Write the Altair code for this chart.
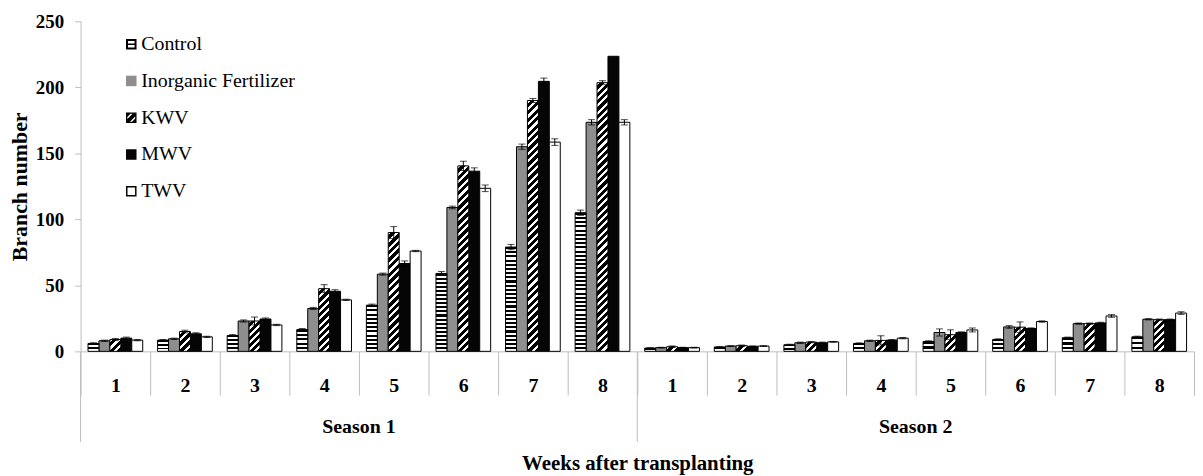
import altair as alt
import pandas as pd

# ---------------- data ----------------
treatments = ["Control", "Inorganic Fertilizer", "KWV", "MWV", "TWV"]
weeks = [1, 2, 3, 4, 5, 6, 7, 8]
seasons = ["Season 1", "Season 2"]

control_s1 = [6, 8.5, 12, 16.5, 35, 59, 79, 105]
control_s2 = [2.5, 3.3, 5, 6, 7.5, 9, 10.3, 11]
inorg_s1 = [8, 9.5, 23, 32.5, 58.5, 109, 155, 173.5]
inorg_s2 = [2.8, 4, 6.5, 8, 14.3, 18.5, 21, 24.3]
kwv_s1 = [9, 15, 23, 47.5, 90, 140.5, 190, 203.5]
kwv_s2 = [3.5, 4.3, 7, 8.3, 12.6, 18.3, 21, 24]
mwv_s1 = [10, 13.3, 24.5, 45.5, 66.5, 136.5, 204.5, 223.5]
mwv_s2 = [2.8, 3.8, 6.5, 8.5, 14.3, 17.3, 21.5, 24]
twv_s1 = [8.5, 11, 20, 39, 76, 123.5, 158.5, 173.5]
twv_s2 = [2.8, 4, 7.2, 10, 16.2, 22.6, 26.8, 29]

control_e1 = [0.5, 0.5, 0.7, 0.8, 0.8, 1.5, 2, 2]
control_e2 = [0.3, 0.3, 0.4, 0.4, 0.5, 0.5, 0.5, 0.5]
inorg_e1 = [0.5, 0.5, 0.8, 0.8, 0.8, 1, 2, 2]
inorg_e2 = [0.3, 0.3, 0.5, 0.5, 2.7, 1, 0.5, 0.5]
kwv_e1 = [0.8, 1, 3, 3, 4.5, 3.5, 1.5, 1.5]
kwv_e2 = [0.6, 0.5, 0.5, 3.5, 3.7, 4, 0.5, 0.5]
mwv_e1 = [0.8, 0.8, 0.8, 1.2, 2, 2.5, 2.5, 0]
mwv_e2 = [0.3, 0.3, 0.5, 0.5, 0.5, 0.5, 0.5, 0.5]
twv_e1 = [0.5, 0.5, 0.5, 0.5, 0.5, 2.5, 2.5, 2]
twv_e2 = [0.3, 0.3, 0.3, 0.5, 1.5, 0.5, 1, 1]

values = {
    "Control": (control_s1, control_s2),
    "Inorganic Fertilizer": (inorg_s1, inorg_s2),
    "KWV": (kwv_s1, kwv_s2),
    "MWV": (mwv_s1, mwv_s2),
    "TWV": (twv_s1, twv_s2),
}
errors = {
    "Control": (control_e1, control_e2),
    "Inorganic Fertilizer": (inorg_e1, inorg_e2),
    "KWV": (kwv_e1, kwv_e2),
    "MWV": (mwv_e1, mwv_e2),
    "TWV": (twv_e1, twv_e2),
}

keys = [f"S{si + 1}-{w}" for si in range(2) for w in weeks]

rows = []
for t in treatments:
    for si in range(2):
        for wi, w in enumerate(weeks):
            v = values[t][si][wi]
            e = errors[t][si][wi]
            rows.append({"key": f"S{si + 1}-{w}", "Treatment": t, "value": v,
                         "lo": v - e, "hi": v + e, "err": e})
df = pd.DataFrame(rows)

# ---------------- layout ----------------
W, H = 1120, 332
YMAX = 250
PAD_OUT = 0.68
step = W / len(keys)
bar_w = step / (len(treatments) + 2 * PAD_OUT)
FONT = ("'Liberation Serif', 'Times New Roman', Tinos, 'Nimbus Roman', "
        "'Noto Serif', 'DejaVu Serif', FreeSerif, serif")
GRAY = "#bdbdbd"

x_axis = alt.Axis(
    labelExpr="split(datum.value, '-')[1]", labelAngle=0, labelFont=FONT,
    labelFontSize=20, labelFontWeight="bold", labelColor="black",
    labelPadding=-20, tickSize=44, tickBand="extent", tickColor=GRAY,
    domainColor=GRAY, grid=False, titleFont=FONT, titleFontSize=21,
    titleFontWeight="bold", titleColor="black", titlePadding=57,
)
y_axis = alt.Axis(
    values=[0, 50, 100, 150, 200, 250], labelFont=FONT, labelFontSize=19,
    labelFontWeight="bold", labelColor="black", tickColor=GRAY, tickSize=6,
    domainColor=GRAY, grid=False, labelPadding=11, titleFont=FONT,
    titleFontSize=22, titleFontWeight="bold", titleColor="black", titlePadding=4,
)


def X(band=None):
    kw = {}
    if band is not None:
        kw["bandPosition"] = band
    return alt.X("key:N", scale=alt.Scale(domain=keys, paddingInner=0, paddingOuter=0),
                 axis=x_axis, title="Weeks after transplanting", **kw)


XO = alt.XOffset("Treatment:N", scale=alt.Scale(domain=treatments, paddingInner=0,
                                                 paddingOuter=PAD_OUT))


def Y(field):
    return alt.Y(f"{field}:Q", scale=alt.Scale(domain=[0, YMAX], nice=False),
                 axis=y_axis, title="Branch number")


def hstripes(h, period=4.2):
    n = max(1, round(h / period))
    stops = []
    for i in range(n):
        a, b, c = i / n, (i + 0.5) / n, (i + 1) / n
        stops += [{"offset": a, "color": "black"}, {"offset": b, "color": "black"},
                  {"offset": b, "color": "white"}, {"offset": c, "color": "white"}]
    return {"gradient": "linear", "x1": 0, "y1": 0, "x2": 0, "y2": 1, "stops": stops}


def diag(w, h, period=7.5, white=0.42):
    k = (w + h) / (w * w + h * h)
    n = max(1, round((w + h) / period))
    stops = []
    for i in range(n):
        a, b, c = i / n, (i + white) / n, (i + 1) / n
        stops += [{"offset": a, "color": "white"}, {"offset": b, "color": "white"},
                  {"offset": b, "color": "black"}, {"offset": c, "color": "black"}]
    return {"gradient": "linear", "x1": 0, "y1": 0, "x2": k * w, "y2": k * h,
            "stops": stops}


layers = []
plain_fill = {"Inorganic Fertilizer": "#8e8e8e", "MWV": "#050505", "TWV": "white"}
for t, col in plain_fill.items():
    layers.append(
        alt.Chart().mark_bar(fill=col, stroke="black", strokeWidth=1)
        .encode(x=X(), xOffset=XO, y=Y("value"))
        .transform_filter(alt.datum.Treatment == t)
    )

# patterned bars: one layer per bar, gradient sized to the bar
for t, maker in (("Control", "h"), ("KWV", "d")):
    for si in range(2):
        for wi, w in enumerate(weeks):
            v = values[t][si][wi]
            hpx = v * H / YMAX
            grad = hstripes(hpx) if maker == "h" else diag(bar_w, hpx)
            key = f"S{si + 1}-{w}"
            layers.append(
                alt.Chart().mark_bar(fill=grad, stroke="black", strokeWidth=1)
                .encode(x=X(), xOffset=XO, y=Y("value"))
                .transform_filter((alt.datum.Treatment == t) & (alt.datum.key == key))
            )

err_base = alt.Chart().transform_filter(alt.datum.err > 0)
layers.append(err_base.mark_rule(color="black", strokeWidth=1)
              .encode(x=X(), xOffset=XO, y=Y("lo"), y2="hi:Q"))
layers.append(err_base.mark_tick(color="black", thickness=1, size=7)
              .encode(x=X(), xOffset=XO, y=Y("hi")))
layers.append(err_base.mark_tick(color="black", thickness=1, size=7)
              .encode(x=X(), xOffset=XO, y=Y("lo")))

# legend (invisible points carry the fill/shape scales)
SQ = "M-1,-1L1,-1L1,1L-1,1Z"
sym_paths = [
    SQ + " M-0.62,-0.62L-0.62,-0.14L0.62,-0.14L0.62,-0.62Z "
    "M-0.62,0.14L-0.62,0.62L0.62,0.62L0.62,0.14Z",
    SQ,
    SQ + " M-0.75,-0.15L-0.75,0.25L0.25,-0.75L-0.15,-0.75Z "
    "M-0.25,0.75L0.15,0.75L0.75,0.15L0.75,-0.25Z",
    SQ,
    SQ + " M-0.72,-0.72L-0.72,0.72L0.72,0.72L0.72,-0.72Z",
]
sym_fill = ["black", "#8e8e8e", "black", "#050505", "black"]
leg = alt.Legend(
    title=None, orient="none", legendX=41, legendY=13, symbolSize=112,
    symbolOpacity=1, symbolStrokeWidth=0,
    labelFont=FONT, labelFontSize=20, labelColor="black", labelOffset=0,
    rowPadding=17, padding=0,
)
layers.append(
    alt.Chart().mark_point(filled=True, opacity=0)
    .encode(
        x=X(), xOffset=XO, y=Y("value"),
        fill=alt.Fill("Treatment:N", scale=alt.Scale(domain=treatments, range=sym_fill),
                      legend=leg),
        shape=alt.Shape("Treatment:N", scale=alt.Scale(domain=treatments, range=sym_paths),
                        legend=leg),
    )
)

# long season dividers and season labels under the axis
div_df = pd.DataFrame({"key": ["S1-1", "S2-1"]})
layers.append(
    alt.Chart(div_df).mark_rule(color=GRAY, strokeWidth=1)
    .encode(x=X(0), y=alt.value(H), y2=alt.value(H + 91))
)
season_df = pd.DataFrame({"key": ["S1-5", "S2-5"], "label": seasons})
layers.append(
    alt.Chart(season_df).mark_text(font=FONT, fontSize=20, fontWeight="bold",
                                   color="black", baseline="alphabetic", align="center")
    .encode(x=X(0), y=alt.value(H + 82), text="label:N")
)

chart = (
    alt.layer(*layers, data=df)
    .properties(width=W, height=H, padding={"left": 0, "top": 3, "right": 0, "bottom": 0})
    .configure_view(stroke=None)
)

chart.save("out.html", embed_options={"renderer": "svg", "actions": False})
